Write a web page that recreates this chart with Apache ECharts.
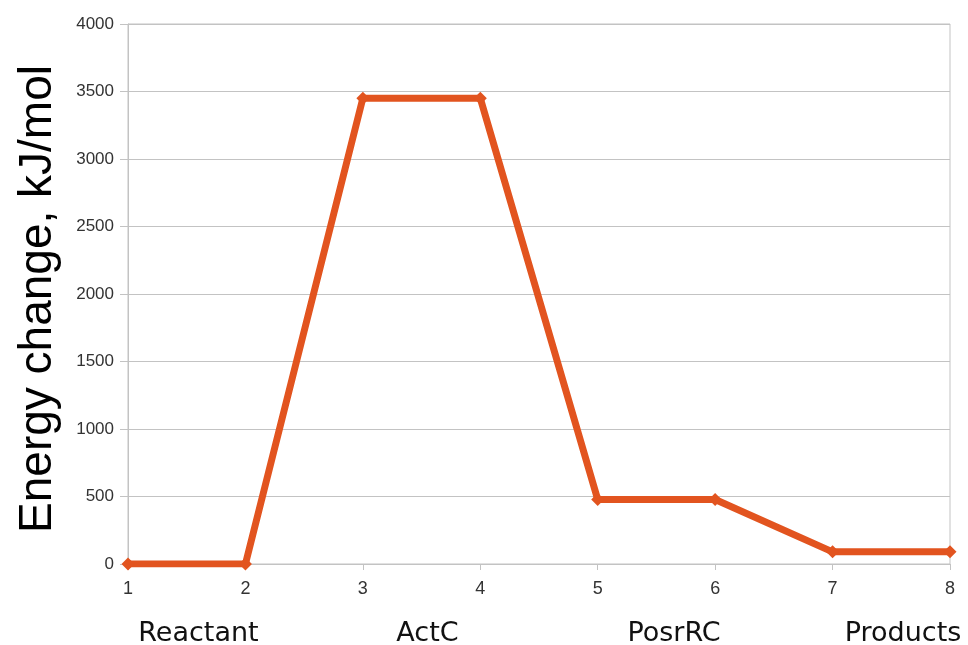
<!DOCTYPE html>
<html><head><meta charset="utf-8">
<script src="https://cdn.jsdelivr.net/npm/echarts@6/dist/echarts.min.js"></script>
<style>html,body{margin:0;padding:0;background:#fff}#c{width:968px;height:645px}</style>
</head><body><div id="c"></div>
<script>
const steps = [1, 2, 3, 4, 5, 6, 7, 8];
const energy = [0, 0, 3450, 3450, 478, 478, 90, 90];
const stagePositions = [1.6, 3.55, 5.65, 7.6];
const stageNames = ["Reactant", "ActC", "PosrRC", "Products"];
const yTitle = "Energy change, kJ/mol";

const chart = echarts.init(document.getElementById('c'));
const grey = '#c3c3c3';
function stageLabel(v) {
  const k = Math.round(v * 100);
  const i = stagePositions.findIndex(p => Math.round(p * 100) === k);
  return i >= 0 ? stageNames[i] : '';
}
chart.setOption({
  animation: false,
  grid: {left: 128, right: 18, top: 24, bottom: 81, show: true, borderColor: grey, borderWidth: 1,
    containLabel: false, outerBoundsMode: 'none'},
  xAxis: [{
    type: 'value', min: 1, max: 8, interval: 1,
    axisLine: {show: true, lineStyle: {color: grey}},
    axisTick: {show: true, length: 6, lineStyle: {color: grey}},
    splitLine: {show: false},
    axisLabel: {color: '#333', fontFamily: 'Liberation Sans', fontSize: 18, margin: 16}
  }, {
    type: 'value', min: 1, max: 8, interval: 0.05, position: 'bottom', offset: 0,
    axisLine: {show: false}, axisTick: {show: false}, splitLine: {show: false},
    axisLabel: {
      color: '#111', fontFamily: 'DejaVu Sans', fontSize: 27, margin: 56,
      showMinLabel: false, showMaxLabel: false, hideOverlap: false,
      formatter: v => stageLabel(v)
    }
  }],
  yAxis: {
    type: 'value', min: 0, max: 4000, interval: 500,
    name: yTitle, nameLocation: 'middle', nameGap: 67,
    nameTextStyle: {fontFamily: 'Liberation Sans', fontSize: 46, color: '#000', padding: [0, 10, 0, 0]},
    axisLine: {show: true, lineStyle: {color: grey}},
    axisTick: {show: true, length: 8, lineStyle: {color: grey}},
    splitLine: {show: true, lineStyle: {color: grey}},
    axisLabel: {color: '#333', fontFamily: 'Liberation Sans', fontSize: 17, margin: 14,
      formatter: v => String(v)}
  },
  series: [{
    type: 'line',
    data: steps.map((s, i) => [s, energy[i]]),
    symbol: 'diamond', symbolSize: 13,
    lineStyle: {color: '#e2541f', width: 7},
    itemStyle: {color: '#e2541f'}
  }]
});
</script></body></html>
